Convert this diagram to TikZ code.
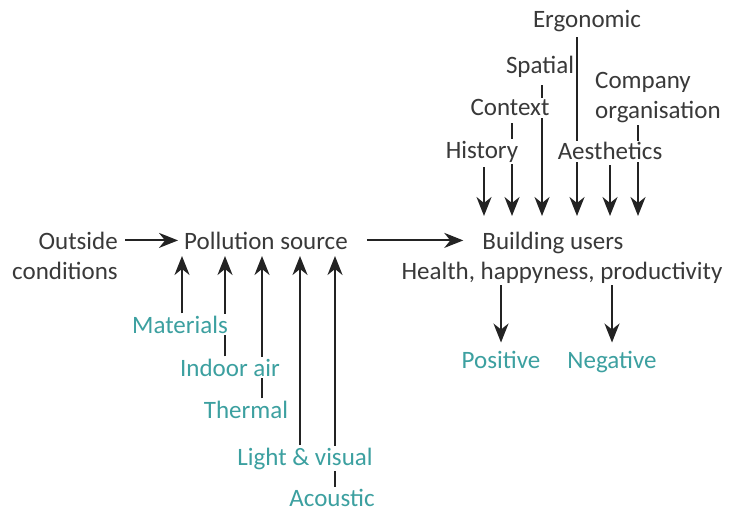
\documentclass[tikz,border=0pt]{standalone}
\usepackage{fontspec}
\setmainfont{Carlito}
\usetikzlibrary{arrows.meta,positioning,backgrounds}
\definecolor{inkgray}{RGB}{35,35,35}
\definecolor{ieqteal}{RGB}{60,160,160}

\begin{document}
\begin{tikzpicture}[x=1pt, y=-1pt,
    every node/.style={font=\fontsize{25}{30}\selectfont, text=inkgray!90, inner sep=2pt},
    factor/.style={fill=white, anchor=base},
    ieq/.style={factor, text=ieqteal},
    arr/.style={-{Stealth[length=19pt,width=15pt,inset=6pt]}, line width=2pt, draw=inkgray}]
    \useasboundingbox (0,0) rectangle (735,513);

    % main chain
    \node [anchor=east, align=right] (outside) at (120,256) {Outside\\conditions};
    \node [anchor=base] (pollution) at (266,249) {Pollution source};
    \node [anchor=base] (users) at (553,249) {Building users};
    \node [anchor=base] (health) at (562,279) {Health, happyness, productivity};

    % context factors above the users
    \node [factor] (ergonomic) at (587,28) {Ergonomic};
    \node [factor] (spatial) at (540,74) {Spatial};
    \node [factor] (context) at (510,116) {Context};
    \node [factor] (history) at (482,158) {History};
    \node [factor] (aesthetics) at (610,160) {Aesthetics};
    \node [fill=white, anchor=west, align=left] (company) at (593,98) {Company\\organisation};

    % indoor environment factors below the source
    \node [ieq] (materials) at (180,333) {Materials};
    \node [ieq] (indoor) at (230,376) {Indoor air};
    \node [ieq] (thermal) at (246,418) {Thermal};
    \node [ieq] (light) at (305,465) {Light \& visual};
    \node [ieq] (acoustic) at (332,506) {Acoustic};

    % outcomes
    \node [ieq] (positive) at (501,368) {Positive};
    \node [ieq] (negative) at (612,368) {Negative};

    \foreach \n/\x in {h/484, c/512, s/542, e/577, a/610, o/638}
        \coordinate (up-\n) at (\x,216);
    \foreach \n/\x in {m/182, i/225, t/262, l/300, a/335}
        \coordinate (in-\n) at (\x,256);

    \begin{pgfonlayer}{background}
        \draw [arr, shorten <=5pt, shorten >=4pt] (outside.east |- pollution.west) -- (pollution.west);
        \draw [arr, shorten <=17pt, shorten >=17pt] (pollution.east) -- (pollution.east -| users.west);

        \draw [arr, shorten <=3pt] (history.south -| up-h) -- (up-h);
        \draw [arr, shorten <=5pt] (context.south -| up-c) -- (up-c);
        \draw [arr, shorten <=5pt] (spatial.south -| up-s) -- (up-s);
        \draw [arr, shorten <=3pt] (ergonomic.south -| up-e) -- (up-e);
        \draw [arr, shorten <=3pt] (aesthetics.south -| up-a) -- (up-a);
        \draw [arr] (company.south -| up-o) -- (up-o);

        \draw [arr] (materials.north -| in-m) -- (in-m);
        \draw [arr] (indoor.north -| in-i) -- (in-i);
        \draw [arr] (thermal.north -| in-t) -- (in-t);
        \draw [arr] (light.north -| in-l) -- (in-l);
        \draw [arr] (acoustic.north -| in-a) -- (in-a);

        \draw [arr, shorten >=6pt] (health.south -| positive.north) -- (positive.north);
        \draw [arr, shorten >=6pt] (health.south -| negative.north) -- (negative.north);
    \end{pgfonlayer}
\end{tikzpicture}
\end{document}
